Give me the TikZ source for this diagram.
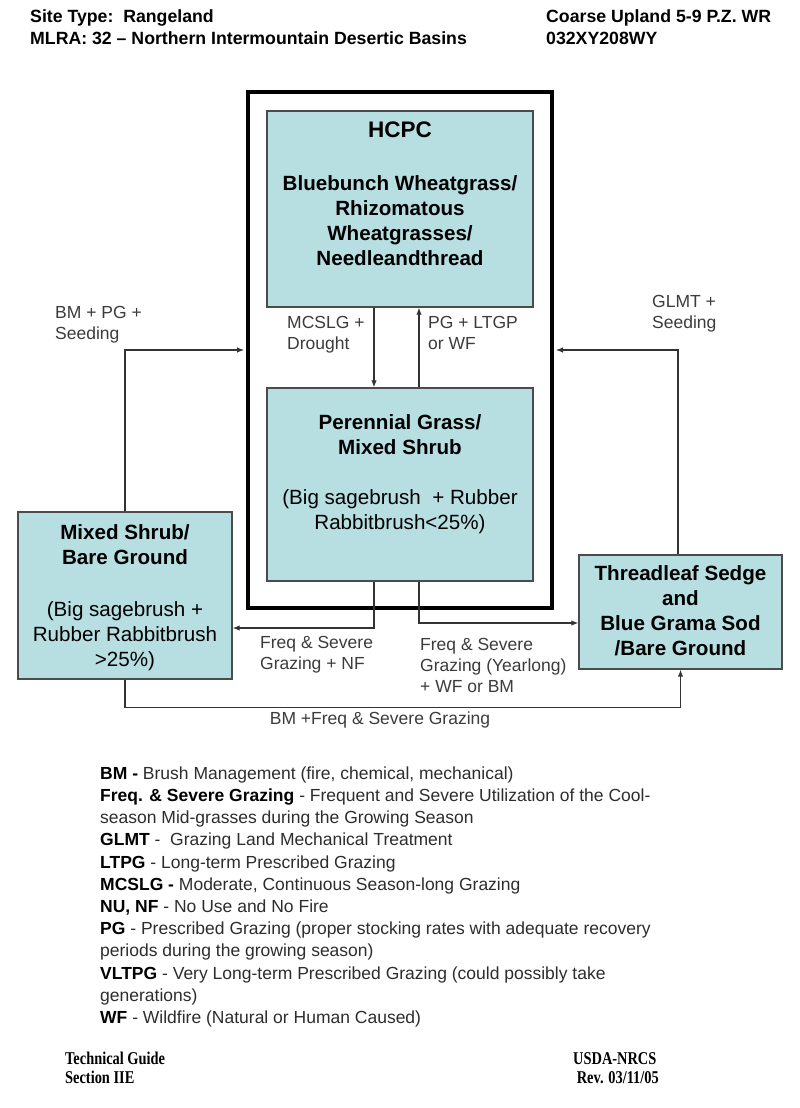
\documentclass[tikz,border=0pt]{standalone}
\usepackage{fontspec}
\setmainfont{Liberation Sans}
\newfontfamily\footfont[FakeStretch=0.8]{Liberation Serif}
\usetikzlibrary{arrows.meta}
\definecolor{boxfill}{RGB}{183,222,225}
\definecolor{boxline}{RGB}{75,75,75}
\definecolor{lbl}{RGB}{60,60,60}
\definecolor{legtxt}{RGB}{45,45,45}
\begin{document}
\begin{tikzpicture}[x=1pt,y=-1pt,
  statebox/.style={draw=boxline,line width=1.4pt,fill=boxfill,inner sep=0pt},
  boxtext/.style={font=\fontsize{20.6}{25}\selectfont\bfseries,align=center,anchor=north,inner sep=0pt},
  lab/.style={font=\fontsize{17.5}{21}\selectfont,text=lbl,align=left,anchor=north west,inner sep=0pt},
  conn/.style={draw=black!80,line width=1.1pt,-{Latex[length=7pt,width=5.5pt]}},
  hdr/.style={font=\fontsize{17.7}{22}\selectfont\bfseries,align=left,anchor=north west,inner sep=0pt},
  ftr/.style={font=\footfont\fontsize{18}{19}\selectfont\bfseries,align=left,anchor=north west,inner sep=0pt}
]
\useasboundingbox (0,0) rectangle (800,1108);
\fill[white] (0,0) rectangle (800,1108);

% header
\node[hdr] (h1) at (30,9.5) {Site Type:\ \ Rangeland\\MLRA: 32 -- Northern Intermountain Desertic Basins};
\node[hdr] (h2) at (546,9.5) {Coarse Upland 5-9 P.Z. WR\\032XY208WY};

% outer state box
\node[draw=black,line width=4pt,minimum width=304pt,minimum height=516pt,inner sep=0pt] (outer) at (400,350) {};

% state boxes
\node[statebox,minimum width=266pt,minimum height=196pt] (hcpc) at (400,209) {};
\node[boxtext] (hcpct) at (400,121.5) {{\fontsize{22.5}{25}\selectfont HCPC}\\[28pt]Bluebunch Wheatgrass/\\Rhizomatous\\Wheatgrasses/\\Needleandthread};

\node[statebox,minimum width=266pt,minimum height=193pt] (per) at (400,484.5) {};
\node[boxtext] (pert) at (400,414.4) {Perennial Grass/\\Mixed Shrub\\[25pt]\mdseries (Big sagebrush\ \ + Rubber\\\mdseries Rabbitbrush{<}25\%)};

\node[statebox,minimum width=214pt,minimum height=167pt] (mix) at (125,595.5) {};
\node[boxtext] (mixt) at (125,524.4) {Mixed Shrub/\\Bare Ground\\[27pt]\mdseries (Big sagebrush +\\\mdseries Rubber Rabbitbrush\\\mdseries {>}25\%)};

\node[statebox,minimum width=203pt,minimum height=114pt] (thr) at (680.5,612) {};
\node[boxtext] (thrt) at (680.5,565.4) {Threadleaf Sedge\\and\\Blue Grama Sod\\/Bare Ground};

% connectors
\draw[conn] ([xshift=-26pt]hcpc.south) -- ([xshift=-26pt]per.north);
\draw[conn] ([xshift=19pt]per.north) -- ([xshift=19pt]hcpc.south);
\draw[conn] ([xshift=-26pt]per.south) |- ([yshift=-32.5pt]mix.east);
\draw[conn] ([xshift=19pt]per.south) |- ([yshift=-11pt]thr.west);
\draw[conn,shorten >=2pt] (mix.north) |- (outer.west);
\draw[conn,shorten >=2pt] ([xshift=-2.5pt]thr.north) |- (outer.east);
\draw[conn] (mix.south) -- ++(0,28) -| (thr.south);

% labels
\node[lab] (l1) at (287,316.5) {MCSLG +\\Drought};
\node[lab] (l2) at (428,316.5) {PG + LTGP\\or WF};
\node[lab] (l3) at (55,306.5) {BM + PG +\\Seeding};
\node[lab] (l4) at (652,295.5) {GLMT +\\Seeding};
\node[lab] (l5) at (260,636.5) {Freq \& Severe\\Grazing + NF};
\node[lab] (l6) at (420,638.5) {Freq \& Severe\\Grazing (Yearlong)\\+ WF or BM};
\node[lab,anchor=north] (l7) at (380,711.5) {BM +Freq \& Severe Grazing};

% legend
\node[anchor=north west,inner sep=0pt,align=left,text=legtxt,font=\fontsize{17.5}{22.2}\selectfont] (legend) at (100,766.5) {%
\textcolor{black}{\bfseries BM -} Brush Management (fire, chemical, mechanical)\\
\textcolor{black}{\bfseries Freq. \& Severe Grazing} - Frequent and Severe Utilization of the Cool-\\
season Mid-grasses during the Growing Season\\
\textcolor{black}{\bfseries GLMT} -\ \ Grazing Land Mechanical Treatment\\
\textcolor{black}{\bfseries LTPG} - Long-term Prescribed Grazing\\
\textcolor{black}{\bfseries MCSLG -} Moderate, Continuous Season-long Grazing\\
\textcolor{black}{\bfseries NU, NF} - No Use and No Fire\\
\textcolor{black}{\bfseries PG} - Prescribed Grazing (proper stocking rates with adequate recovery\\
periods during the growing season)\\
\textcolor{black}{\bfseries VLTPG} - Very Long-term Prescribed Grazing (could possibly take\\
generations)\\
\textcolor{black}{\bfseries WF} - Wildfire (Natural or Human Caused)};

% footer
\node[ftr] (f1) at (65,1052) {Technical Guide\\Section IIE};
\node[ftr] (f2) at (573,1052) {USDA-NRCS\\\ Rev. 03/11/05};
\end{tikzpicture}
\end{document}
